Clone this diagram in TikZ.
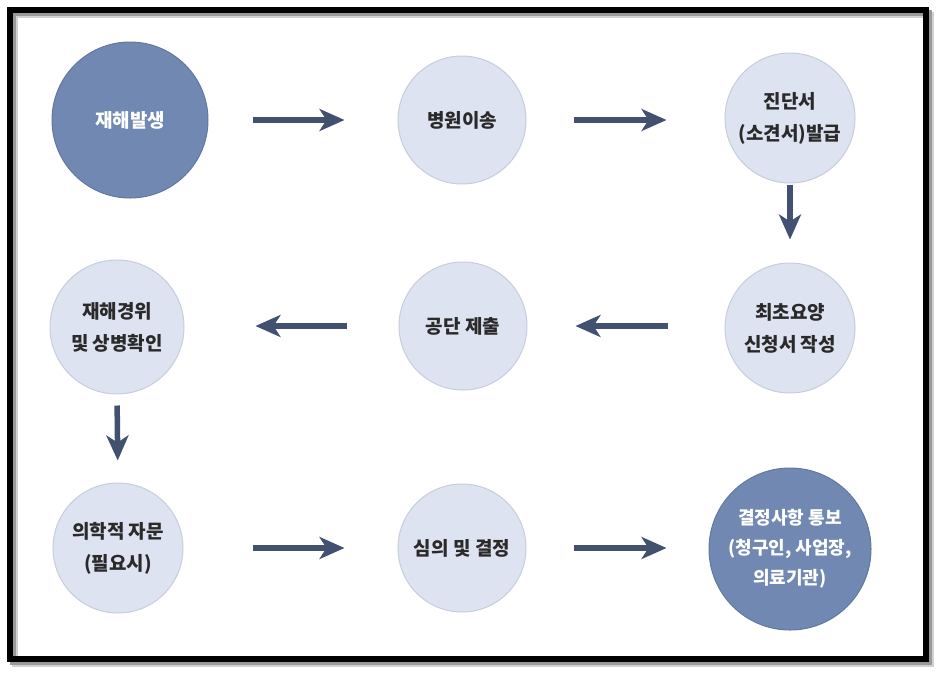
\documentclass[tikz,border=0pt]{standalone}
\usepackage{fontspec}
\setmainfont{Noto Sans CJK KR}
\usetikzlibrary{arrows.meta,calc}

\definecolor{circfill}{HTML}{DDE3F0}
\definecolor{circedge}{HTML}{C6CDDB}
\definecolor{darkfill}{HTML}{7088B2}
\definecolor{darkedge}{HTML}{6278A0}
\definecolor{flowcol}{HTML}{425170}
\definecolor{textdark}{HTML}{2A2A2A}

\begin{document}
\begin{tikzpicture}[x=1pt, y=-1pt,
  lightcirc/.style={circle, draw=circedge, fill=circfill, line width=1pt,
    minimum size=128pt, inner sep=0pt, align=center, text=textdark,
    font=\fontsize{19}{32}\selectfont\bfseries},
  darkcirc/.style={lightcirc, draw=darkedge, fill=darkfill, text=white},
  flow/.style={-{Stealth[length=25pt,width=22pt,inset=7pt]},
    line width=5.5pt, draw=flowcol}]

  % 캔버스 크기
  \useasboundingbox (0,0) rectangle (944,678);

  % 테두리 (그림자 포함)
  \draw[line width=6pt, black!18] (15,15) rectangle (931,664);
  \draw[line width=6pt, black!40] (13,13) rectangle (929,662);
  \draw[line width=6pt, black] (10,10) rectangle (926,659);

  % 첫째 줄
  \node[darkcirc, minimum size=156pt] (accident) at (130,120) {재해발생};
  \node[lightcirc] (hospital) at (462,120) {병원이송};
  \node[lightcirc, minimum size=130pt] (diagnosis) at (790,118) {진단서\\(소견서)발급};

  % 둘째 줄
  \node[lightcirc, minimum size=130pt] (apply) at (790,328) {최초요양\\신청서 작성};
  \node[lightcirc] (submit) at (463,326) {공단 제출};
  \node[lightcirc, minimum size=134pt] (confirm) at (117,327) {재해경위\\및 상병확인};

  % 셋째 줄
  \node[lightcirc, minimum size=130pt] (advice) at (118,548) {의학적 자문\\(필요시)};
  \node[lightcirc] (review) at (462,548) {심의 및 결정};
  \node[darkcirc, minimum size=162pt,
    font=\fontsize{18}{30}\selectfont\bfseries] (notice) at (790,549)
    {결정사항 통보\\(청구인, 사업장,\\의료기관)};

  % 화살표
  \draw[flow, shorten <=44pt, shorten >=53pt] (accident.east) -- (hospital.west);
  \draw[flow, shorten <=47pt, shorten >=58pt] (hospital.east) -- (hospital.east -| diagnosis.west);
  \draw[flow, shorten <=1pt, shorten >=23pt] (diagnosis.south) -- (apply.north);
  \draw[flow, shorten <=57pt, shorten >=48pt] (apply.west |- submit) -- (submit.east);
  \draw[flow, shorten <=52pt, shorten >=71pt] (submit.west) -- (submit.west -| confirm.east);
  \draw[flow, shorten <=11pt, shorten >=22pt] (confirm.south) -- (advice.north);
  \draw[flow, shorten <=69pt, shorten >=53pt] (advice.east) -- (review.west);
  \draw[flow, shorten <=47pt, shorten >=42pt] (review.east) -- (review.east -| notice.west);

\end{tikzpicture}
\end{document}
